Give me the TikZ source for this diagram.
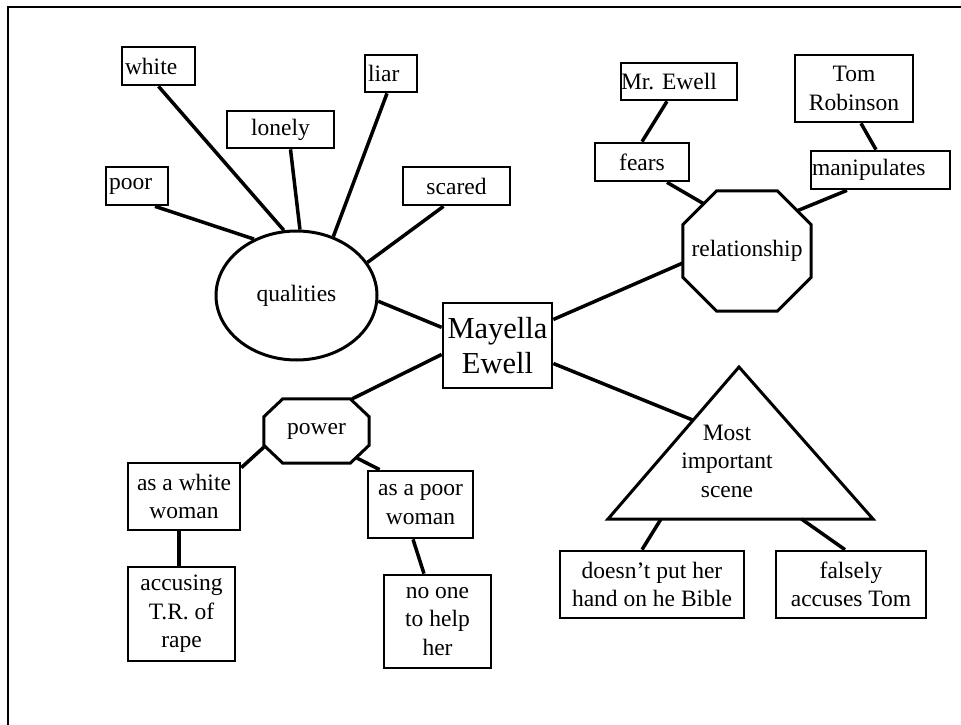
\documentclass[tikz,border=0pt]{standalone}
\usepackage{fontspec}
\setmainfont{Liberation Serif}
\usetikzlibrary{calc,shapes.geometric}
\tikzset{%
	box/.style = {rectangle,draw,line width=2.7pt,inner sep=0,align=center,font=\fontsize{23.5}{28.5}\selectfont},
	leftbox/.style = {box,align=left,inner xsep=3pt},
	plain/.style = {rectangle,inner sep=0,align=center,font=\fontsize{23.5}{28.5}\selectfont},
	link/.style = {line width=3.5pt},
	outline/.style = {line width=3pt}%
}

\begin{document}
\begin{tikzpicture}[x=1pt,y=-1pt]
	
	\useasboundingbox (0,0) rectangle (961,725);
	\draw[line width=2pt] (8,725) -- (8,7) -- (961,7);
	
	\node(mayella)[box,minimum width=109,minimum height=85,font=\fontsize{30.5}{35}\selectfont] at (497.5,345.5){Mayella\\Ewell};
	
	% qualities
	\node(qualities)[plain,ellipse,draw,outline,minimum width=161,minimum height=129] at (296.5,295.5){qualities};
	\node(white)[leftbox,text width=67,minimum height=38] at (158.5,66){white};
	\node(liar)[leftbox,text width=46,minimum height=37] at (391,73.5){liar};
	\node(lonely)[box,minimum width=107,minimum height=37] at (280.5,129.5){lonely};
	\node(poor)[leftbox,text width=56,minimum height=38] at (137,186){poor};
	\node(scared)[box,minimum width=107,minimum height=38] at (456.5,186){scared};
	\draw[link] (white.south) -- (qualities.101);
	\draw[link] ([xshift=10pt]lonely.south) -- (qualities.87);
	\draw[link] ([xshift=-4pt]liar.south) -- (qualities.58);
	\draw[link] ([xshift=18pt]poor.south) -- (qualities.127);
	\draw[link] ([xshift=-13pt]scared.south) -- (qualities.25);
	\draw[link] (qualities.-4) -- (mayella.162);
	
	% relationship
	\node(rel)[plain,minimum width=128,minimum height=120] at (747,251){relationship};
	\draw[outline] ([xshift=34pt]rel.north west) -- ([xshift=-34pt]rel.north east) -- ([yshift=-34pt]rel.north east) -- ([yshift=34pt]rel.south east) -- ([xshift=-34pt]rel.south east) -- ([xshift=34pt]rel.south west) -- ([yshift=34pt]rel.south west) -- ([yshift=-34pt]rel.north west) -- cycle;
	\node(mrewell)[leftbox,inner xsep=0,text width=116,minimum height=37] at (679,81.5){Mr.\ Ewell};
	\node(fears)[box,minimum width=94,minimum height=38] at (642,162){fears};
	\node(tom)[box,minimum width=118,minimum height=67] at (854,88.5){Tom\\Robinson};
	\node(manipulates)[leftbox,inner xsep=1pt,text width=137,minimum height=38] at (880.5,170){manipulates};
	\draw[link] ([xshift=-12pt]mrewell.south) -- (fears.north);
	\draw[link] ([xshift=25pt]fears.south) -- ([xshift=21pt,yshift=-13pt]rel.north west);
	\draw[link] ([xshift=7pt]tom.south) -- ([xshift=-4.5pt]manipulates.north);
	\draw[link] ([xshift=-33.5pt]manipulates.south) -- ([xshift=-14pt,yshift=-20pt]rel.north east);
	\draw[link] (mayella.25) -- ([yshift=-12pt]rel.west);
	
	% power
	\node(power)[plain,minimum width=105,minimum height=64] at (316.5,431){power};
	\draw[outline] ([xshift=19pt]power.north west) -- ([xshift=-19pt]power.north east) -- ([yshift=-18pt]power.north east) -- ([yshift=18pt]power.south east) -- ([xshift=-19pt]power.south east) -- ([xshift=19pt]power.south west) -- ([yshift=18pt]power.south west) -- ([yshift=-18pt]power.north west) -- cycle;
	\node(whitewoman)[box,minimum width=112,minimum height=67] at (184,496.5){as a white\\woman};
	\node(accusing)[box,minimum width=107,minimum height=94] at (181.5,614){accusing\\T.R. of\\rape};
	\node(poorwoman)[box,minimum width=105,minimum height=67] at (420.5,504.5){as a poor\\woman};
	\node(noone)[box,minimum width=107,minimum height=93] at (437.5,621.5){no one\\to help\\her};
	\draw[link] ([yshift=-9pt]mayella.west) -- ([xshift=-17pt]power.north east);
	\draw[link] ([yshift=16pt]power.south west) -- ([yshift=-6pt]whitewoman.north east);
	\draw[link] ([xshift=-12pt,yshift=5pt]power.south east) -- ([xshift=13pt]poorwoman.north west);
	\draw[link] ([xshift=-5pt]whitewoman.south) -- ([xshift=-2.5pt]accusing.north);
	\draw[link] ([xshift=-7.5pt]poorwoman.south) -- ([xshift=-13.5pt]noone.north);
	
	% most important scene
	\coordinate(top) at (739,367);
	\coordinate(bl) at (608,519);
	\coordinate(br) at (873,519);
	\draw[outline] (top) -- (br) -- (bl) -- cycle;
	\node(scene)[plain] at (727,461){Most\\important\\scene};
	\node(doesnt)[box,minimum width=184,minimum height=67] at (652,584.5){doesn’t put her\\hand on he Bible};
	\node(falsely)[box,minimum width=150,minimum height=67] at (851,584.5){falsely\\accuses Tom};
	\draw[link] ([yshift=-18pt]mayella.east) -- ($(top)!0.35!(bl)$);
	\draw[link] ($(bl)!0.2!(br)$) -- ([xshift=-10pt]doesnt.north);
	\draw[link] ($(bl)!0.73!(br)$) -- ([xshift=-6pt]falsely.north);
	
\end{tikzpicture}
\end{document}
